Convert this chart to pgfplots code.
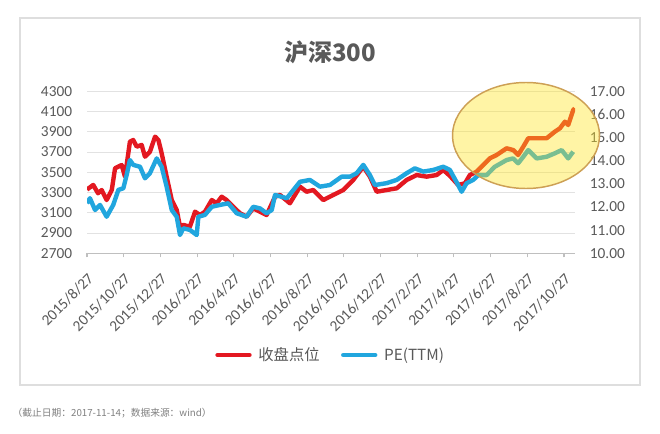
\documentclass[border=0pt]{standalone}
\usepackage{pgfplots}
\pgfplotsset{compat=1.18}
\usepackage{fontspec}
\setmainfont{Carlito}
\newfontfamily\cjk{Noto Sans CJK SC}

\definecolor{idxred}{RGB}{227,24,33}
\definecolor{pecyan}{RGB}{33,166,222}
\definecolor{labgray}{RGB}{89,89,89}
\definecolor{gridgray}{RGB}{226,226,226}
\definecolor{axisgray}{RGB}{191,191,191}
\definecolor{framegray}{RGB}{222,222,222}
\definecolor{ellfill}{RGB}{255,228,30}
\definecolor{ellborder}{RGB}{205,160,85}

% x = months after 2015/8/27
\pgfplotstableread{
m     close
0.00  3330
0.34  3375
0.60  3293
0.80  3325
1.07  3226
1.35  3325
1.53  3540
1.89  3572
2.07  3457
2.34  3802
2.52  3819
2.71  3753
2.98  3770
3.16  3654
3.43  3703
3.71  3852
3.89  3819
4.07  3688
4.34  3457
4.62  3226
4.89  3128
5.07  2963
5.25  2980
5.61  2963
5.89  3111
6.16  3078
6.43  3111
6.80  3226
7.07  3194
7.34  3259
7.61  3226
7.97  3160
8.34  3095
8.70  3062
9.06  3144
9.43  3111
9.79  3078
10.25 3259
10.52 3276
11.06 3194
11.61 3358
11.97 3308
12.33 3325
12.88 3226
13.42 3276
13.97 3325
14.51 3424
15.06 3555
15.42 3457
15.79 3308
16.33 3325
16.88 3342
17.42 3424
17.97 3473
18.51 3457
19.06 3473
19.42 3523
19.78 3465
20.23 3375
20.60 3391
20.87 3473
21.24 3506
21.60 3572
21.96 3638
22.33 3671
22.87 3737
23.23 3720
23.50 3671
23.78 3753
24.05 3836
24.51 3836
25.05 3836
25.50 3901
25.78 3935
26.05 4000
26.23 3967
26.50 4115
26.59 4132
}\closetable

\pgfplotstableread{
m     pe
0.00  12.16
0.16  12.38
0.44  11.87
0.71  12.09
1.07  11.58
1.43  12.09
1.71  12.74
1.98  12.81
2.16  13.38
2.34  14.03
2.52  13.82
2.89  13.74
3.16  13.24
3.43  13.46
3.80  14.10
4.07  13.74
4.34  12.88
4.62  11.87
4.89  11.58
5.07  10.79
5.25  11.08
5.61  11.01
5.98  10.79
6.07  11.58
6.43  11.66
6.80  12.01
7.25  12.09
7.70  12.16
8.16  11.73
8.70  11.58
9.06  12.01
9.43  11.94
9.79  11.73
10.07 11.87
10.25 12.52
10.89 12.38
11.61 13.09
12.15 13.17
12.70 12.88
13.24 12.95
13.88 13.31
14.33 13.31
14.70 13.46
15.06 13.82
15.42 13.38
15.69 12.95
16.33 13.03
16.88 13.17
17.42 13.46
17.87 13.67
18.33 13.53
18.87 13.60
19.42 13.74
19.78 13.60
20.23 12.95
20.42 12.66
20.69 13.03
21.05 13.17
21.32 13.38
21.78 13.38
22.23 13.74
22.87 14.03
23.23 14.10
23.50 13.89
23.78 14.17
24.05 14.46
24.51 14.10
25.05 14.17
25.50 14.32
25.87 14.46
26.23 14.10
26.50 14.39
}\petable

% 1 px of the reference = 0.75pt
\pgfplotsset{
  base/.style={
    at={(65.25pt,134.78pt)}, anchor=south west,
    scale only axis, width=366pt, height=121.5pt,
    xmin=0, xmax=26.6,
    tick label style={font=\fontsize{11.5}{12}\selectfont, text=labgray},
    /pgf/number format/assume math mode=true,
    /pgf/number format/1000 sep={},
  },
}

\begin{document}
\begin{tikzpicture}[x=0.75pt,y=0.75pt]
\fill[white] (0,0) rectangle (660,433);
\draw[framegray, line width=0.8pt] (20,48) rectangle (640,415);
\node[font=\cjk\bfseries\fontsize{18}{20}\selectfont, text=labgray] at (330,381) {沪深300};

\begin{axis}[base,
  ymin=2700, ymax=4300, ytick={2700,2900,...,4300},
  axis x line*=bottom, axis y line*=left,
  x axis line style={axisgray, line width=0.8pt},
  y axis line style={draw=none},
  ytick style={draw=none},
  ymajorgrids, grid style={gridgray, line width=0.8pt},
  yticklabel style={anchor=east, inner sep=0pt, xshift=-11pt},
  xtick={0,2,...,26},
  xticklabels={2015/8/27,2015/10/27,2015/12/27,2016/2/27,2016/4/27,2016/6/27,2016/8/27,2016/10/27,2016/12/27,2017/2/27,2017/4/27,2017/6/27,2017/8/27,2017/10/27},
  xtick align=outside, major tick length=3pt,
  xtick style={axisgray, line width=0.8pt},
  xticklabel style={xshift=3pt, yshift=-14pt, rotate=45, anchor=east, inner sep=0pt},
  legend columns=2,
  legend style={draw=none, fill=none, at={(axis description cs:0.5,-0.628)}, anchor=center,
    font=\cjk\fontsize{11.5}{12}\selectfont, text=labgray,
    /tikz/every odd column/.append style={column sep=3pt},
    /tikz/every even column/.append style={column sep=14pt}},
  legend image code/.code={\draw[#1, line cap=round] (0pt,0pt) -- (24pt,0pt);},
]
\addplot[idxred, line width=3.3pt, line join=round] table[x=m, y=close] {\closetable};
\addlegendentry{收盘点位}
\addlegendimage{pecyan, line width=3.3pt}
\addlegendentry{PE(TTM)}
\end{axis}

\begin{axis}[base,
  ymin=10, ymax=17, ytick={10,11,...,17},
  axis x line=none, axis y line*=right,
  y axis line style={draw=none},
  ytick style={draw=none},
  yticklabel style={anchor=west, inner sep=0pt, xshift=11pt,
    /pgf/number format/.cd, fixed, fixed zerofill, precision=2},
]
\addplot[pecyan, line width=3.3pt, line join=round] table[x=m, y=pe] {\petable};
\end{axis}

\draw[draw=ellborder, line width=1.1pt, fill=ellfill, fill opacity=0.4] (526,297.5) ellipse (73.5 and 53);

\node[anchor=west, font=\cjk\fontsize{7.3}{8}\selectfont, text=gray] at (8,20) {（截止日期：2017-11-14；数据来源：wind）};
\end{tikzpicture}
\end{document}
